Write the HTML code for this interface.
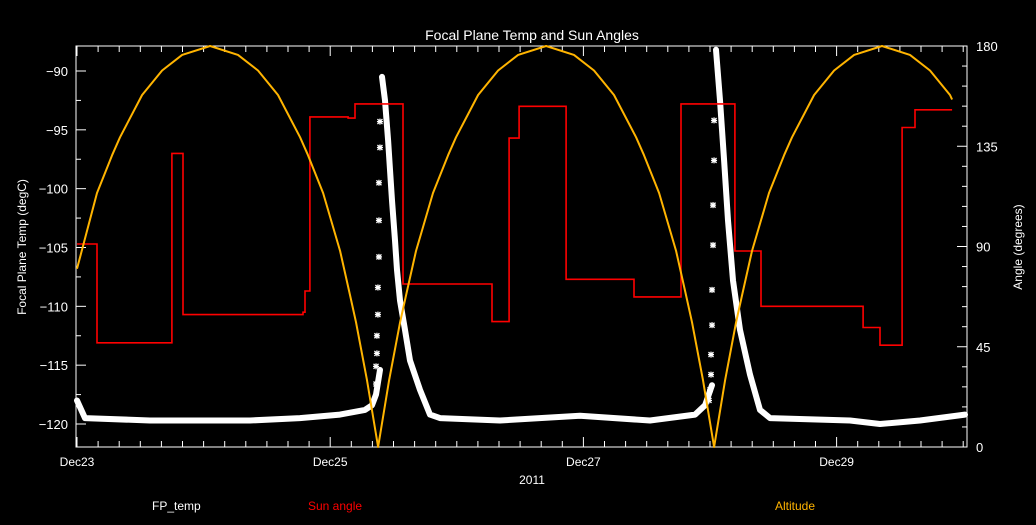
<!DOCTYPE html>
<html><head><meta charset="utf-8"><style>
html,body{margin:0;padding:0;background:#000;}
svg{display:block;font-family:"Liberation Sans",sans-serif;}
</style></head><body>
<svg id="chart" width="1036" height="525" viewBox="0 0 1036 525">
<rect width="1036" height="525" fill="#000"/>
<text x="532" y="40" fill="#fff" font-size="14" text-anchor="middle">Focal Plane Temp and Sun Angles</text>
<text x="26" y="247" fill="#fff" font-size="12" text-anchor="middle" transform="rotate(-90 26 247)">Focal Plane Temp (degC)</text>
<text x="1022" y="247" fill="#fff" font-size="12" text-anchor="middle" transform="rotate(-90 1022 247)">Angle (degrees)</text>
<text x="532" y="484" fill="#fff" font-size="12" text-anchor="middle">2011</text>
<text x="152" y="510" fill="#fff" font-size="12">FP_temp</text>
<text x="308" y="510" fill="#ff0000" font-size="12">Sun angle</text>
<text x="775" y="510" fill="#ffb400" font-size="12">Altitude</text>
<g id="axes"></g>
<g id="series"></g>
</svg>
<script>
// x axis: days since Dec23 00:00
const xTickLabels = ["Dec23","Dec25","Dec27","Dec29"];
const xTickDays = [0,2,4,6];
const leftTicks = [-90,-95,-100,-105,-110,-115,-120];
const rightTicks = [0,45,90,135,180];
// Sun angle (red step, in degC axis units)
const sunDays = [0,0.158,0.75,0.837,1.785,1.801,1.840,2.141,2.196,2.575,3.278,3.413,3.492,3.863,4.400,4.771,5.197,5.403,6.209,6.343,6.517,6.619,6.912];
const sunTemps = [-104.7,-113.1,-97.0,-110.7,-110.5,-108.7,-93.9,-94.0,-92.8,-108.1,-111.3,-95.7,-93.0,-107.7,-109.2,-92.8,-105.3,-110.0,-111.8,-113.3,-94.8,-93.3,-93.3];
// Altitude (orange, degrees)
const altDays = [0,0.158,0.277,0.340,0.514,0.672,0.830,1.051,1.272,1.430,1.588,1.762,1.825,1.944,2.078,2.157,2.204,2.291,2.378,2.465,2.552,2.599,2.678,2.812,2.931,2.994,3.168,3.326,3.484,3.705,3.926,4.084,4.242,4.416,4.479,4.598,4.732,4.811,4.858,4.945,5.032,5.119,5.206,5.253,5.332,5.466,5.585,5.648,5.822,5.980,6.138,6.359,6.580,6.738,6.896,6.912];
const altVals = [80,114,131,139,158,169,176,180,176,169,158,139,131,114,88,68,56,30,0,30,56,68,88,114,131,139,158,169,176,180,176,169,158,139,131,114,88,68,56,30,0,30,56,68,88,114,131,139,158,169,176,180,176,169,158,156];
// FP temp (white, dense trace)
const fpDays = [0,0.063,0.577,1.367,1.761,2.077,2.275,2.330,2.362,2.393,2.409,2.433,2.457,2.472,2.488,2.512,2.528,2.551,2.591,2.630,2.709,2.788,2.867,3.341,3.973,4.526,4.882,4.961,5.016,5.047,5.079,5.111,5.142,5.182,5.237,5.316,5.395,5.474,6.106,6.343,6.659,7.014];
const fpTemps = [-118.0,-119.5,-119.7,-119.7,-119.5,-119.2,-118.8,-118.4,-117.5,-115.4,-90.5,-92.5,-95.9,-98.4,-101.0,-104.4,-106.9,-109.5,-112.0,-114.6,-117.1,-119.2,-119.5,-119.7,-119.3,-119.7,-119.2,-118.4,-116.7,-88.2,-92.5,-97.6,-102.7,-107.8,-112.0,-115.8,-118.8,-119.5,-119.7,-120.0,-119.7,-119.2];
// FP temp sparse samples (asterisks)
const starDays = [2.393,2.393,2.385,2.385,2.385,2.377,2.377,2.369,2.369,2.362,2.362,5.032,5.032,5.024,5.024,5.016,5.016,5.008,5.008,5.0,4.992];
const starTemps = [-94.3,-96.5,-99.5,-102.7,-105.8,-108.4,-110.7,-112.5,-114.0,-115.1,-116.6,-94.2,-97.6,-101.4,-104.8,-108.6,-111.6,-114.1,-115.8,-117.1,-118.0];

const NS="http://www.w3.org/2000/svg";
const L=76,R=967,T=46,B=447;
const xS=d=>77+d*126.6;
const yT=v=>71+(-90-v)*(353/30);
const yA=a=>B-a*(B-T)/180;
const axes=document.getElementById('axes'), ser=document.getElementById('series');
function mk(tag,attrs,parent){const e=document.createElementNS(NS,tag);for(const k in attrs)e.setAttribute(k,attrs[k]);parent.appendChild(e);return e;}
const frame=mk('rect',{x:L,y:T,width:R-L,height:B-T,fill:'none',stroke:'#fff','stroke-width':1},axes);


for(let i=0;i<=42;i++){const d=i/6;const x=xS(d);if(x>R)break;const len=(i%12===0)?10:6;
 const t1=mk('line',{x1:x,x2:x,y1:B,y2:B-len,stroke:'#fff'},axes);
 
 
 const t2=mk('line',{x1:x,x2:x,y1:T,y2:T+len,stroke:'#fff'},axes);
 
 }
xTickLabels.forEach((s,i)=>{const t=mk('text',{x:xS(xTickDays[i]),y:466,fill:'#fff','font-size':12,'text-anchor':'middle'},axes);t.textContent=s;
 
 });
for(let v=-122.5;v<=-87.5;v+=2.5){const y=yT(v);if(y<T||y>B)continue;const len=(v%5===0)?10:5;
 const t=mk('line',{x1:L,x2:L+len,y1:y,y2:y,stroke:'#fff'},axes);
 
 }
leftTicks.forEach(v=>{const t=mk('text',{x:68,y:yT(v)+5,fill:'#fff','font-size':13,'text-anchor':'end'},axes);t.textContent='\u2212'+Math.abs(v);
 
 });
for(let a=0;a<=180;a+=9){const y=yA(a);const len=(a%45===0)?10:5;
 const t=mk('line',{x1:R,x2:R-len,y1:y,y2:y,stroke:'#fff'},axes);
 
 }
rightTicks.forEach(a=>{const t=mk('text',{x:976,y:yA(a)+5,fill:'#fff','font-size':13},axes);t.textContent=a;
 
 });
// FP trace: sharp upward jumps are shown only by sparse samples, so break the path there
let fpD='';fpDays.forEach((d,i)=>{const x=xS(d).toFixed(1),y=yT(fpTemps[i]).toFixed(1);
 const jump=i>0&&(fpTemps[i]-fpTemps[i-1])>15;fpD+=(i===0||jump?'M':'L')+x+','+y+' ';});
const fp=mk('path',{d:fpD,fill:'none',stroke:'#fff','stroke-width':6,'stroke-linejoin':'round','stroke-linecap':'round'},ser);


starDays.forEach((d,i)=>{const x=xS(d),y=yT(starTemps[i]);
 const s=mk('path',{d:`M${x-3},${y}H${x+3}M${x},${y-3}V${y+3}M${x-2.5},${y-2.5}L${x+2.5},${y+2.5}M${x-2.5},${y+2.5}L${x+2.5},${y-2.5}`,stroke:'#fff','stroke-width':1.3},ser);
 
 });
let sp=[];sunDays.forEach((d,i)=>{const x=xS(d);if(i>0)sp.push(x.toFixed(1)+','+yT(sunTemps[i-1]).toFixed(1));sp.push(x.toFixed(1)+','+yT(sunTemps[i]).toFixed(1));});
const sun=mk('polyline',{points:sp.join(' '),fill:'none',stroke:'#ff0000','stroke-width':1.6},ser);


const altPts=altDays.map((d,i)=>xS(d).toFixed(1)+','+yA(altVals[i]).toFixed(1)).join(' ');
const alt=mk('polyline',{points:altPts,fill:'none',stroke:'#ffb400','stroke-width':2,'stroke-linejoin':'round'},ser);


</script>
</body></html>
